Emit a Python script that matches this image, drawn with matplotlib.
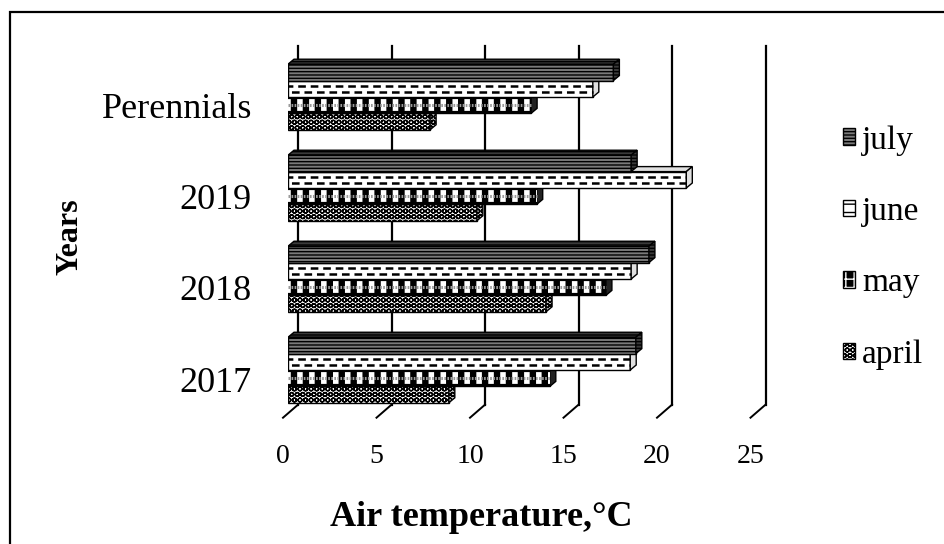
import numpy as np
import matplotlib
matplotlib.use("Agg")
import matplotlib.pyplot as plt
from matplotlib.patches import Patch, Polygon, Rectangle
from matplotlib.transforms import ScaledTranslation

plt.rcParams['font.family'] = ['Liberation Serif', 'DejaVu Serif']
plt.rcParams['hatch.linewidth'] = 1.0
plt.rcParams['lines.scale_dashes'] = False

# mean monthly air temperature, °C
categories = ['2017', '2018', '2019', 'Perennials']
months = ['april', 'may', 'june', 'july']
april = [8.6, 13.8, 10.1, 7.6]
may = [14.0, 17.0, 13.3, 13.0]
june = [18.3, 18.35, 21.3, 16.3]
july = [18.6, 19.3, 18.35, 17.4]
x_ticks = [0, 5, 10, 15, 20, 25]

W, H, DPI = 944, 544, 100
fig = plt.figure(figsize=(W / DPI, H / DPI), dpi=DPI)

# plot area in pixels (front face of the bars)
left, right, top, bottom = 288, 755.5, 55.1, 413.7
ax = fig.add_axes([left / W, 1 - bottom / H, (right - left) / W, (bottom - top) / H])
ax.set_xlim(0, 25)
ax.set_ylim(-0.48, 3.46)
XS = (right - left) / 25
YS = (bottom - top) / 3.94

def px(dx, dy):
    return dx / XS, dy / YS

BX, BY = px(10, 9)    # back wall
FX, FY = px(-5, -4)   # front edge of the floor
DX, DY = px(6, 5)     # bar depth
y0, y1 = ax.get_ylim()

# back wall grid + floor edges
for t in x_ticks:
    ax.plot([t + BX, t + BX], [y0 + BY, y1 + BY], color='black', lw=1.6, zorder=1, clip_on=False)
    ax.plot([t + BX, t + FX], [y0 + BY, y0 + FY], color='black', lw=1.4, zorder=1, clip_on=False)

h = 0.18
styles = {
    'april': dict(fc='white', hatch='OOO', side='#d0d0d0'),
    'may': dict(fc='black', hatch=None, side='#222222'),
    'june': dict(fc='white', hatch=None, side='#e0e0e0'),
    'july': dict(fc='#7a7a7a', hatch='-----', side='#3a3a3a'),
}
values = {'april': april, 'may': may, 'june': june, 'july': july}

for k, m in enumerate(months):
    st = styles[m]
    z = 3 + k
    pos = np.arange(len(categories)) + (k - 1.5) * h
    bars = ax.barh(pos, values[m], height=h, color=st['fc'], edgecolor='black',
                   hatch=st['hatch'], lw=1.0, zorder=z)
    for r in bars:
        x0, yb = r.get_x(), r.get_y()
        w, hh = r.get_width(), r.get_height()
        yt = yb + hh
        topf = Polygon([(x0, yt), (x0 + w, yt), (x0 + w + DX, yt + DY), (x0 + DX, yt + DY)],
                       closed=True, fc=st['side'], ec='black', lw=1.0, hatch=st['hatch'], zorder=z)
        side = Polygon([(x0 + w, yb), (x0 + w + DX, yb + DY), (x0 + w + DX, yt + DY), (x0 + w, yt)],
                       closed=True, fc=st['side'], ec='black', lw=1.0, hatch=st['hatch'], zorder=z)
        ax.add_patch(topf)
        ax.add_patch(side)
        if m == 'june':
            ax.plot([x0, x0 + w], [yb + 0.68 * hh] * 2, color='black', lw=1.8,
                    ls=(2, (5.5, 3.5)), zorder=z + 0.1)
            ax.plot([x0, x0 + w], [yb + 0.3 * hh] * 2, color='black', lw=1.8,
                    ls=(6.5, (5.5, 3.5)), zorder=z + 0.1)
        elif m == 'may':
            ax.plot([x0, x0 + w], [yb + 0.5 * hh] * 2, color='white', lw=8.5,
                    ls=(2, (4.0, 4.6)), zorder=z + 0.1)
            ax.plot([x0, x0 + w], [yb + 0.5 * hh] * 2, color='#9a9a9a', lw=2.2,
                    ls=(0, (1.2, 1.0)), zorder=z + 0.2)

for s in ax.spines.values():
    s.set_visible(False)
ax.set_xticks(x_ticks)
ax.set_xticklabels([str(t) for t in x_ticks], fontsize=20)
ax.set_yticks(np.arange(len(categories)))
ax.set_yticklabels(categories, fontsize=26)
ax.tick_params(length=0)
ax.tick_params(axis='x', pad=22)
ax.tick_params(axis='y', pad=26)
for lab in ax.get_xticklabels():
    lab.set_transform(lab.get_transform() + ScaledTranslation(-0.05, 0, fig.dpi_scale_trans))
for lab in ax.get_yticklabels():
    lab.set_transform(lab.get_transform() + ScaledTranslation(0, -0.09, fig.dpi_scale_trans))

fig.text(70 / W, 1 - 237 / H, 'Years', rotation=90, ha='center', va='center',
         fontsize=23, fontweight='bold')
fig.text(481 / W, 1 - 518 / H, 'Air temperature,°C', ha='center', va='center',
         fontsize=26, fontweight='bold')

handles = [
    Patch(fc='#7a7a7a', ec='black', hatch='-----'),
    Patch(fc='white', ec='black', hatch='--'),
    (Patch(fc='black', ec='white', hatch='++', lw=0), Patch(fc='none', ec='black')),
    Patch(fc='white', ec='black', hatch='OOO'),
]
fig.legend(handles, ['july', 'june', 'may', 'april'], loc='upper left',
           bbox_to_anchor=(843 / W, 1 - 125 / H), frameon=False, fontsize=24,
           handlelength=0.37, handleheight=0.37, handletextpad=0.2,
           labelspacing=1.23, borderpad=0, borderaxespad=0)

fig.add_artist(Rectangle((9.5 / W, -0.1), 1.2, 1 - 11.5 / H + 0.1, transform=fig.transFigure,
                         fill=False, ec='black', lw=1.6))

fig.savefig('out.png', dpi=DPI)
